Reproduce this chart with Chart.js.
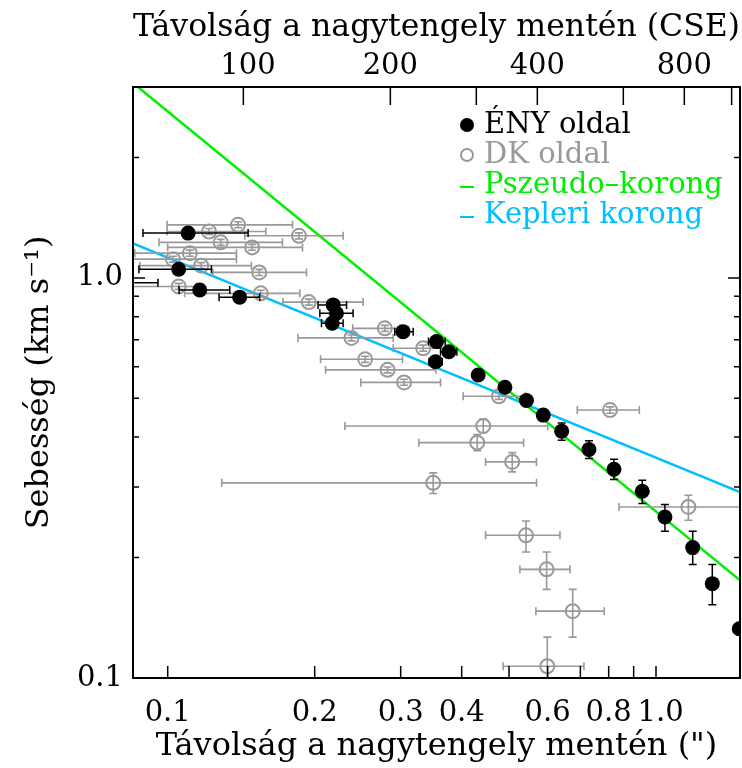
<!DOCTYPE html>
<html>
<head>
<meta charset="utf-8">
<script src="https://cdn.jsdelivr.net/npm/chart.js@4/dist/chart.umd.min.js"></script>
<style>
  html, body { margin: 0; padding: 0; background: #fff; overflow: hidden; }
  #c { display: block; }
</style>
</head>
<body>
<canvas id="c" width="742" height="768"></canvas>
<script>
// ---------- data ----------
// ÉNY oldal (filled black)
const enyR   = [0.1101,0.1053,0.1163,0.1404,0.2182,0.2216,0.2172,0.3034,0.3553,0.3764,0.3536,0.4324,0.4904,0.5429,0.5876,0.6409,0.7290,0.8202,0.9373,1.043,1.189,1.304,1.481,0.080];
const enyV   = [1.294,1.051,0.933,0.895,0.856,0.816,0.770,0.734,0.693,0.654,0.617,0.572,0.533,0.494,0.454,0.414,0.3725,0.3325,0.2929,0.2526,0.2118,0.1721,0.1328,0.973];
const enyRlo = [0.0890,0.0873,0.1055,0.1274,0.2032,0.2049,0.2065,0.2918,0.3420,0.3620,0.3430,null,null,null,null,null,null,null,null,null,null,null,null,0.067];
const enyRhi = [0.1461,0.1229,0.1340,0.1543,0.2324,0.2397,0.2287,0.3182,0.3700,0.3910,0.3650,null,null,null,null,null,null,null,null,null,null,null,null,0.0955];
const enyVlo = [null,null,null,null,null,null,null,null,null,null,null,null,null,null,null,0.393,0.3537,0.3133,0.2729,0.2326,0.1923,0.1525,null,null];
const enyVhi = [null,null,null,null,null,null,null,null,null,null,null,null,null,null,null,0.4336,0.3915,0.3522,0.312,0.2714,0.2326,0.1923,null,null];

// DK oldal (open grey)
const dkR   = [0.1215,0.1393,0.1284,0.1857,0.1489,0.1110,0.1025,0.1171,0.1540,0.1053,0.1551,0.1945,0.2379,0.2784,0.3336,0.2537,0.2820,0.3049,0.4767,0.4427,0.4304,0.5076,0.3497,0.8049,1.165,0.5417,0.5970,0.6752,0.5988];
const dkV   = [1.306,1.357,1.227,1.274,1.192,1.153,1.114,1.073,1.032,0.952,0.915,0.870,0.708,0.748,0.667,0.626,0.589,0.548,0.506,0.4266,0.3875,0.3468,0.3074,0.4674,0.2676,0.2273,0.1869,0.1469,0.1070];
const dkRlo = [0.0997,0.0997,0.0960,0.1438,0.1000,0.0856,0.0820,0.0877,0.1237,0.0820,0.1083,0.1721,0.1848,0.2393,0.2896,0.2056,0.2105,0.2486,0.4028,0.2306,0.3268,0.4477,0.1290,0.6899,0.8398,0.4477,0.5263,0.5676,0.4864];
const dkRhi = [0.1588,0.1801,0.1718,0.2287,0.1888,0.1383,0.1383,0.1484,0.1924,0.1145,0.1865,0.2513,0.2896,0.2989,0.3850,0.3026,0.3541,0.3620,0.5400,0.6000,0.5356,0.5690,0.5693,0.9243,1.490,0.6357,0.6665,0.7835,0.7119];
const dkVlo = [1.284,1.334,1.206,1.252,1.172,1.133,1.095,1.055,1.014,0.936,0.899,0.855,0.696,0.735,0.656,0.615,0.579,0.539,0.497,0.410,0.370,0.3275,0.2891,0.459,0.2479,0.2065,0.1665,0.1265,0.0990];
const dkVhi = [1.329,1.381,1.248,1.296,1.213,1.173,1.133,1.092,1.050,0.969,0.931,0.885,0.720,0.761,0.679,0.637,0.599,0.558,0.515,0.444,0.406,0.3658,0.3256,0.476,0.2862,0.2469,0.2065,0.1665,0.1265];

// model lines (end points)
const pseudoR = [0.0869, 1.486];
const pseudoV = [3.0, 0.1754];
const keplerR = [0.0849, 1.486];
const keplerV = [1.220, 0.2917];

// axes
const xMin = 0.0849, xMax = 1.486, yMin = 0.1, yMax = 3.0;
const csePerArcsec = 700;
const xTicks = [0.1,0.2,0.3,0.4,0.5,0.6,0.7,0.8,0.9,1.0];
const xTickLabels = ['0.1','0.2','0.3','0.4','','0.6','','0.8','',' 1.0'];
const cseTicks = [100,200,300,400,600,800,1000];
const cseTickLabels = [' 100','200','','400','','800',''];
const yTicks = [0.1,0.2,0.3,0.4,0.5,0.6,0.7,0.8,0.9,1.0,2.0,3.0];
const yTickLabels = ['0.1','','','','','','','','','1.0','',''];

const legendItems = [
  { text: 'ÉNY oldal', color: '#000000', mark: 'dot' },
  { text: 'DK oldal', color: '#999999', mark: 'ring' },
  { text: 'Pszeudo–korong', color: '#00ee00', mark: 'dash' },
  { text: 'Kepleri korong', color: '#00bfff', mark: 'dash' }
];

const FONT = "'DejaVu Serif', 'Liberation Serif', serif";
const GREY = '#999999';

function pts(xs, ys) { return xs.map((x, i) => ({ x: x, y: ys[i] })); }

// ---------- plugins ----------
const errorBars = {
  id: 'errorBars',
  beforeDatasetDraw(chart, args) {
    const ds = chart.data.datasets[args.index];
    if (!ds.err) return;
    const { ctx, chartArea: a, scales: { x, y } } = chart;
    const e = ds.err;
    ctx.save();
    ctx.beginPath();
    ctx.rect(a.left, a.top, a.right - a.left, a.bottom - a.top);
    ctx.clip();
    ctx.strokeStyle = e.color;
    ctx.lineWidth = e.width;
    const cap = 4;
    ds.data.forEach((p, i) => {
      const px = x.getPixelForValue(p.x), py = y.getPixelForValue(p.y);
      if (e.xlo[i] != null && e.xhi[i] != null) {
        const x1 = x.getPixelForValue(e.xlo[i]), x2 = x.getPixelForValue(e.xhi[i]);
        ctx.beginPath();
        ctx.moveTo(x1, py); ctx.lineTo(x2, py);
        ctx.moveTo(x1, py - cap); ctx.lineTo(x1, py + cap);
        ctx.moveTo(x2, py - cap); ctx.lineTo(x2, py + cap);
        ctx.stroke();
      }
      if (e.ylo[i] != null && e.yhi[i] != null) {
        const y1 = y.getPixelForValue(e.ylo[i]), y2 = y.getPixelForValue(e.yhi[i]);
        ctx.beginPath();
        ctx.moveTo(px, y1); ctx.lineTo(px, y2);
        ctx.moveTo(px - cap, y1); ctx.lineTo(px + cap, y1);
        ctx.moveTo(px - cap, y2); ctx.lineTo(px + cap, y2);
        ctx.stroke();
      }
    });
    ctx.restore();
  }
};

const frameAndTicks = {
  id: 'frameAndTicks',
  afterDraw(chart) {
    const { ctx, chartArea: a, scales } = chart;
    ctx.save();
    ctx.strokeStyle = '#000';
    ctx.lineWidth = 1.5;
    ctx.beginPath();
    scales.x.ticks.forEach(t => {
      const p = scales.x.getPixelForValue(t.value);
      ctx.moveTo(p, a.bottom); ctx.lineTo(p, a.bottom - 12);
    });
    scales.x2.ticks.forEach(t => {
      const p = scales.x2.getPixelForValue(t.value);
      ctx.moveTo(p, a.top); ctx.lineTo(p, a.top + 18);
    });
    scales.y.ticks.forEach(t => {
      const p = scales.y.getPixelForValue(t.value);
      const major = (t.label && t.label !== '');
      ctx.moveTo(a.left, p); ctx.lineTo(a.left + (major ? 12 : 6), p);
      ctx.moveTo(a.right, p); ctx.lineTo(a.right - (major ? 12 : 6), p);
    });
    ctx.stroke();
    ctx.lineWidth = 2;
    ctx.strokeRect(a.left, a.top, a.right - a.left, a.bottom - a.top);

    // legend
    const lx = a.left + 334, ly0 = a.top + 38, dy = 30;
    ctx.font = "29px " + FONT;
    ctx.textBaseline = 'middle';
    ctx.textAlign = 'left';
    legendItems.forEach((it, i) => {
      const yy = ly0 + i * dy;
      ctx.fillStyle = it.color;
      ctx.strokeStyle = it.color;
      if (it.mark === 'dot') {
        ctx.beginPath(); ctx.arc(lx, yy, 7, 0, Math.PI * 2); ctx.fill();
      } else if (it.mark === 'ring') {
        ctx.lineWidth = 2;
        ctx.beginPath(); ctx.arc(lx, yy, 6, 0, Math.PI * 2); ctx.stroke();
      } else {
        ctx.lineWidth = 2;
        ctx.beginPath(); ctx.moveTo(lx - 7, yy + 2); ctx.lineTo(lx + 7, yy + 2); ctx.stroke();
      }
      ctx.fillText(it.text, lx + 17, yy);
    });
    ctx.restore();
  }
};

function fixBox(s) {
  s.paddingLeft = 0; s.paddingRight = 0;
}

// ---------- chart ----------
const titleFont = { family: FONT, size: 32 };
const tickFont = { family: FONT, size: 29 };

const chart = new Chart(document.getElementById('c'), {
  type: 'scatter',
  data: {
    datasets: [
      {
        label: 'ÉNY oldal',
        data: pts(enyR, enyV),
        pointRadius: 7.5,
        pointBackgroundColor: '#000',
        pointBorderWidth: 0,
        pointBorderColor: '#000',
        err: { xlo: enyRlo, xhi: enyRhi, ylo: enyVlo, yhi: enyVhi, color: '#000', width: 1.5 }
      },
      {
        label: 'DK oldal',
        data: pts(dkR, dkV),
        pointRadius: 7,
        pointBackgroundColor: 'rgba(0,0,0,0)',
        pointBorderColor: GREY,
        pointBorderWidth: 2,
        err: { xlo: dkRlo, xhi: dkRhi, ylo: dkVlo, yhi: dkVhi, color: GREY, width: 1.6 }
      },
      {
        label: 'Pszeudo–korong',
        data: pts(pseudoR, pseudoV),
        showLine: true,
        borderColor: '#00ee00',
        borderWidth: 2.5,
        pointRadius: 0
      },
      {
        label: 'Kepleri korong',
        data: pts(keplerR, keplerV),
        showLine: true,
        borderColor: '#00bfff',
        borderWidth: 2.5,
        pointRadius: 0
      }
    ]
  },
  options: {
    responsive: false,
    animation: false,
    devicePixelRatio: 1,
    layout: { autoPadding: false, padding: { left: 0, right: 2, top: 0, bottom: 0 } },
    plugins: { legend: { display: false }, tooltip: { enabled: false } },
    scales: {
      x: {
        type: 'logarithmic', position: 'bottom', min: xMin, max: xMax,
        afterFit(s) { s.height = 90; fixBox(s); },
        afterBuildTicks(s) { s.ticks = xTicks.map(v => ({ value: v })); },
        ticks: {
          autoSkip: false, maxRotation: 0, minRotation: 0, padding: 18,
          color: '#000', font: tickFont,
          callback(v, i) { return xTickLabels[i]; }
        },
        grid: { display: false, drawTicks: false },
        border: { display: false },
        title: { display: true, text: 'Távolság a nagytengely mentén (")', color: '#000', font: titleFont, padding: { top: 0, bottom: 2 } }
      },
      x2: {
        type: 'logarithmic', position: 'top', min: xMin * csePerArcsec, max: xMax * csePerArcsec,
        afterFit(s) { s.height = 87; fixBox(s); },
        afterBuildTicks(s) { s.ticks = cseTicks.map(v => ({ value: v })); },
        ticks: {
          autoSkip: false, maxRotation: 0, minRotation: 0, padding: 3,
          color: '#000', font: tickFont,
          callback(v, i) { return cseTickLabels[i]; }
        },
        grid: { display: false, drawTicks: false },
        border: { display: false },
        title: { display: true, text: 'Távolság a nagytengely mentén (CSE)', color: '#000', font: titleFont, padding: { top: 8, bottom: 0 } }
      },
      y: {
        type: 'logarithmic', position: 'left', min: yMin, max: yMax,
        afterFit(s) { s.width = 133; },
        afterBuildTicks(s) { s.ticks = yTicks.map(v => ({ value: v })); },
        ticks: {
          autoSkip: false, padding: 10,
          color: '#000', font: tickFont,
          callback(v, i) { return yTickLabels[i]; }
        },
        grid: { display: false, drawTicks: false },
        border: { display: false },
        title: { display: true, text: 'Sebesség (km s⁻¹)', color: '#000', font: titleFont, padding: { top: 20, bottom: 0 } }
      }
    }
  },
  plugins: [errorBars, frameAndTicks]
});
</script>
</body>
</html>
